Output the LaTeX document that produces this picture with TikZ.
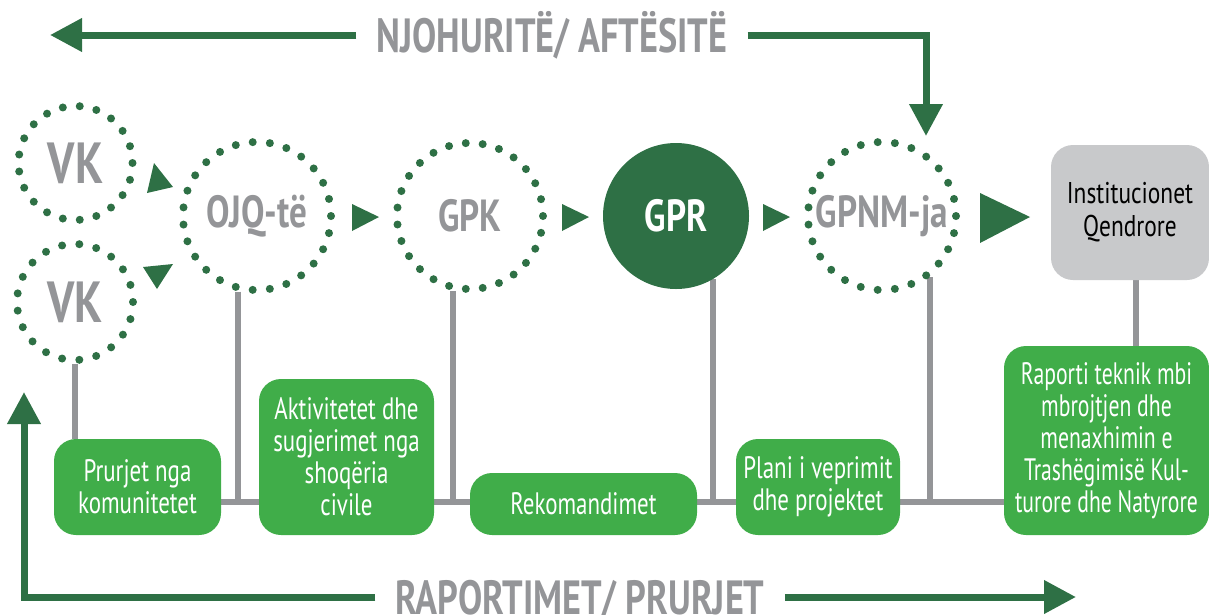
\documentclass[tikz,border=0pt]{standalone}
\usepackage{fontspec}
\setmainfont[FakeStretch=0.78]{PT Sans}
\newfontfamily\headfont[FakeStretch=0.755]{PT Sans}
\newfontfamily\bodyfont[FakeStretch=0.74]{PT Sans}
\newfontfamily\narrowfont[FakeStretch=0.70]{PT Sans}
\usepackage{tikz}
\usetikzlibrary{arrows.meta,positioning,calc,backgrounds}

\definecolor{dkgreen}{RGB}{46,112,69}
\definecolor{boxgreen}{RGB}{64,173,73}
\definecolor{txtgray}{RGB}{148,149,152}
\definecolor{boxgray}{RGB}{200,201,203}

\tikzset{
  dotring/.style={circle, draw=dkgreen, line width=8pt, line cap=round, dash pattern=on 0pt off #1, inner sep=0pt, text=txtgray, font=\bfseries\fontsize{45}{45}\selectfont},
  gbox/.style={rectangle, rounded corners=22pt, fill=boxgreen, text=white, align=center, inner sep=0pt, font=\bodyfont\fontsize{31}{32}\selectfont},
  gline/.style={draw=txtgray, line width=6pt},
  flow/.style={draw=dkgreen, line width=7pt, -{Triangle[length=32pt,width=32pt]}},
  headline/.style={text=txtgray, font=\headfont\bfseries\fontsize{48}{48}\selectfont, inner xsep=20pt, inner ysep=0pt, text height=34pt, text depth=0pt},
}

\begin{document}
\begin{tikzpicture}[x=1pt,y=-1pt]
\useasboundingbox (0,0) rectangle (1209,614);

% groups
\node[dotring=17.05pt, minimum size=114pt, font=\bfseries\fontsize{58}{58}\selectfont] (vka) at (75.5,163) {VK};
\node[dotring=17.35pt, minimum size=116pt, font=\bfseries\fontsize{58}{58}\selectfont] (vkb) at (75,302) {VK};
\node[dotring=17.22pt, minimum size=148pt] (ojq) at (257,216) {OJQ-të};
\node[dotring=16.99pt, minimum size=146pt] (gpk) at (470,216) {GPK};
\node[circle, fill=dkgreen, minimum size=146pt, inner sep=0pt, text=white, font=\bfseries\fontsize{45}{45}\selectfont] (gpr) at (676,216) {GPR};
\node[dotring=17.22pt, minimum size=148pt] (gpnm) at (882,216) {GPNM-ja};
\node[rectangle, rounded corners=22pt, fill=boxgray, minimum width=158pt, minimum height=135pt, align=center, font=\fontsize{30}{33}\selectfont] (inst) at (1130,212.5) {Institucionet\\Qendrore};

% outputs
\node[gbox, minimum width=167pt, minimum height=96pt] (pr) at (137.5,487) {Prurjet nga\\komunitetet};
\node[gbox, minimum width=175pt, minimum height=156pt] (ak) at (346.5,457) {Aktivitetet dhe\\sugjerimet nga\\shoqëria\\civile};
\node[gbox, minimum width=227pt, minimum height=62pt] (rek) at (583.5,504) {Rekomandimet};
\node[gbox, minimum width=164pt, minimum height=96pt] (pl) at (818,487) {Plani i veprimit\\dhe projektet};
\node[gbox, minimum width=205pt, minimum height=189pt, font=\narrowfont\fontsize{31}{32}\selectfont] (rap) at (1106.5,440.5) {Raporti teknik mbi\\mbrojtjen dhe\\menaxhimin e\\Trashëgimisë Kul-\\turore dhe Natyrore};

% gray links
\begin{scope}[on background layer]
  \coordinate (bus) at (0,502);
  \draw[gline] (pr.east |- bus) -- (rap.west |- bus);
  \draw[gline] (vkb.south) -- (vkb.south |- pr.north);
  \draw[gline] (ojq.256) -- (ojq.256 |- bus);
  \draw[gline] (gpk.257) -- (gpk.257 |- bus);
  \draw[gline] (gpr.300) -- (gpr.300 |- bus);
  \draw[gline] (gpnm.308) -- (gpnm.308 |- bus);
  \draw[gline] ([xshift=6pt]inst.south) -- ([xshift=6pt]inst.south |- rap.north);
\end{scope}

% small arrows
\fill[dkgreen] (147,193) -- (154,163) -- (173,187) -- cycle;
\fill[dkgreen] (143,267) -- (173,264) -- (157,289) -- cycle;
\fill[dkgreen] (352,204) -- (352,231) -- (379,217) -- cycle;
\fill[dkgreen] (562,204) -- (562,231) -- (589,217) -- cycle;
\fill[dkgreen] (763,204) -- (763,231) -- (790,217) -- cycle;
\fill[dkgreen] (980,193) -- (980,243) -- (1030,217) -- cycle;

% big loops
\node[headline] (know) at (552,35) {NJOHURITË/ AFTËSITË};
\node[headline] (rep) at (580,597) {RAPORTIMET/ PRURJET};
\coordinate (kend) at (50,35);
\coordinate (kdown) at (926,136);
\coordinate (rup) at (24,392);
\coordinate (rend) at (1076,597);
\draw[flow] (know.west) -- (kend);
\draw[flow] (know.east) -| (kdown);
\draw[flow] (rep.west) -| (rup);
\draw[flow] (rep.east) -- (rend);
\end{tikzpicture}
\end{document}
